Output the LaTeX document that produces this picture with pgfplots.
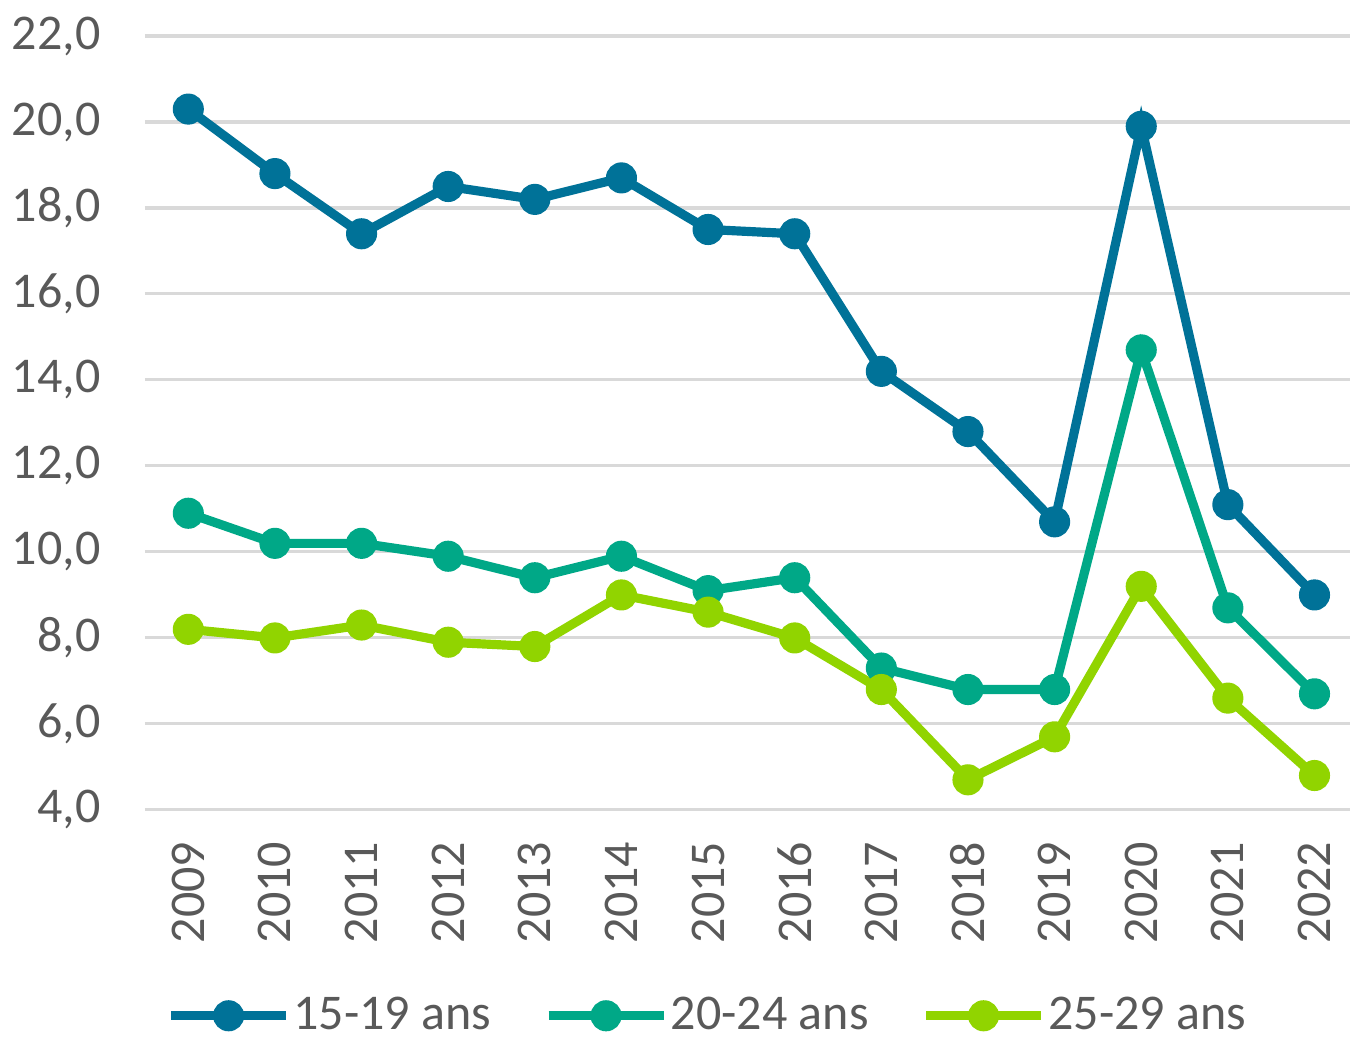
\documentclass[border=0pt]{standalone}
\usepackage{fontspec}
\setmainfont{Carlito}
\usepackage{pgfplots}
\pgfplotsset{compat=1.18}
\definecolor{cA}{RGB}{0,114,152}
\definecolor{cB}{RGB}{0,168,135}
\definecolor{cC}{RGB}{145,212,0}
\definecolor{txt}{RGB}{89,89,89}
\definecolor{grd}{RGB}{217,217,217}
\begin{document}
\begin{tikzpicture}
\begin{axis}[
  name=ax,
  scale only axis,
  width=433.8pt, height=278.6pt,
  xmin=-0.5, xmax=13.41,
  ymin=4, ymax=22,
  ytick={4,6,...,22},
  xtick={0,...,13},
  xticklabels={2009,2010,2011,2012,2013,2014,2015,2016,2017,2018,2019,2020,2021,2022},
  axis line style={draw=none},
  major tick length=0pt,
  ymajorgrids,
  major grid style={color=grd, line width=1.1pt},
  font=\fontsize{18}{21}\selectfont,
  tick label style={color=txt, font=\fontsize{18}{21}\selectfont},
  /pgf/number format/assume math mode=true,
  yticklabel style={/pgf/number format/fixed, /pgf/number format/fixed zerofill, /pgf/number format/precision=1, /pgf/number format/use comma, xshift=-12.5pt},
  xticklabel style={rotate=90, anchor=east, xshift=-8pt},
  legend columns=3,
  legend style={draw=none, at={(0.467,-0.266)}, anchor=center, text=txt,
    font=\fontsize{18}{21}\selectfont,
    /tikz/every even column/.append style={column sep=18pt},
    inner sep=0pt, nodes={inner sep=1pt}},
  legend image code/.code={\draw[mark repeat=2,mark phase=2,#1] plot coordinates {(0pt,0pt) (20.7pt,0pt) (41.4pt,0pt)};},
  every axis plot/.append style={line width=3.3pt, mark=*, mark size=5.1pt, mark options={line width=1pt}},
]
\addplot[color=cA] coordinates {(0,20.3)(1,18.8)(2,17.4)(3,18.5)(4,18.2)(5,18.7)(6,17.5)(7,17.4)(8,14.2)(9,12.8)(10,10.7)(11,19.9)(12,11.1)(13,9.0)};
\addlegendentry{15-19 ans}
\addplot[color=cB] coordinates {(0,10.9)(1,10.2)(2,10.2)(3,9.9)(4,9.4)(5,9.9)(6,9.1)(7,9.4)(8,7.3)(9,6.8)(10,6.8)(11,14.7)(12,8.7)(13,6.7)};
\addlegendentry{20-24 ans}
\addplot[color=cC] coordinates {(0,8.2)(1,8.0)(2,8.3)(3,7.9)(4,7.8)(5,9.0)(6,8.6)(7,8.0)(8,6.8)(9,4.7)(10,5.7)(11,9.2)(12,6.6)(13,4.8)};
\addlegendentry{25-29 ans}
\end{axis}
\pgfresetboundingbox
\path ([xshift=-52.2pt,yshift=-84.24pt]ax.south west) rectangle ([yshift=12.96pt]ax.north east);
\end{tikzpicture}
\end{document}
